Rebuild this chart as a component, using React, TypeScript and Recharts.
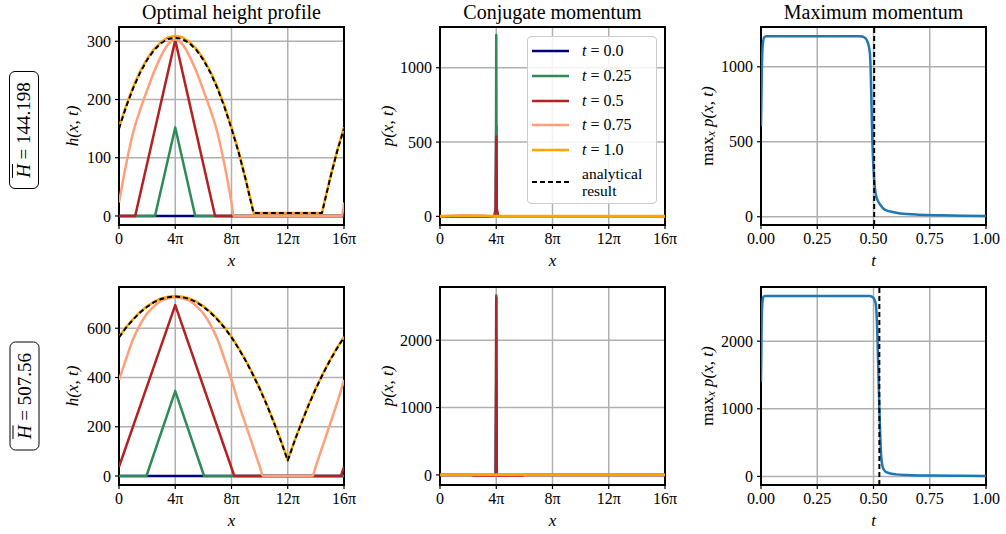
import React from 'react';
import { LineChart, Line, XAxis, YAxis, CartesianGrid, ReferenceArea, ReferenceLine, Legend } from 'recharts';

const SERIF = '"Liberation Serif", "DejaVu Serif", serif';

// axis ticks (x in units of pi for the spatial panels)
const xTicksPi = [0, 4, 8, 12, 16];
const tTicks = [0, 0.25, 0.5, 0.75, 1];
const hTicksTop = [0, 100, 200, 300];
const pTicksTop = [0, 500, 1000];
const maxTicksTop = [0, 500, 1000];
const hTicksBottom = [0, 200, 400, 600];
const pTicksBottom = [0, 1000, 2000];
const maxTicksBottom = [0, 1000, 2000];

const timeLabels = ['0.0', '0.25', '0.5', '0.75', '1.0'];
const hBarLabels = ['144.198', '507.56'];
const titles = ['Optimal height profile', 'Conjugate momentum', 'Maximum momentum'];
// analytical switch-off time for each run
const tStar = [0.503, 0.526];

// ---- h(x, t), H = 144.198 ----
const h0Top = [[0, 0], [16, 0]];
const h25Top = [[0, 0], [2.56, 0], [4, 152], [5.42, 0], [16, 0]];
const h50Top = [[0, 0], [1.15, 0], [4, 302], [6.83, 0], [16, 0]];
const h75Top = [
  [0, 23], [0.5, 88], [1, 143], [1.5, 182], [2, 216], [2.5, 248], [3, 275], [3.5, 295], [4, 303],
  [4.5, 295], [5, 275], [5.5, 248], [6, 216], [6.5, 182], [7, 143], [7.5, 88], [8, 23], [8.15, 0],
  [15.85, 0], [16, 23],
];
const h100Top = [
  [0, 152], [0.5, 189], [1, 221], [1.5, 248], [2, 270], [2.5, 287], [3, 299], [3.5, 307], [4, 309],
  [4.5, 307], [5, 299], [5.5, 287], [6, 270], [6.5, 248], [7, 221], [7.5, 189], [8, 152], [8.5, 111],
  [9, 64], [9.5, 13], [9.57, 5], [14.43, 5], [14.5, 13], [15, 64], [15.5, 111], [16, 152],
];
const hExactTop = [
  [0, 150], [0.5, 187], [1, 219], [1.5, 246], [2, 268], [2.5, 285], [3, 297], [3.5, 304], [4, 306],
  [4.5, 304], [5, 297], [5.5, 285], [6, 268], [6.5, 246], [7, 219], [7.5, 187], [8, 150], [8.5, 110],
  [9, 63], [9.5, 12], [9.57, 5], [14.43, 5], [14.5, 12], [15, 63], [15.5, 110], [16, 150],
];

// ---- p(x, t), H = 144.198 ----
const p0Top = [[0, 0], [3.97, 0], [4, 605], [4.03, 0], [16, 0]];
const p25Top = [[0, 0], [3.97, 0], [4, 1221], [4.03, 0], [16, 0]];
const p50Top = [[0, 0], [3.85, 0], [3.96, 50], [4, 538], [4.04, 50], [4.15, 0], [16, 0]];
const p75Top = [[0, 0], [0.8, 5], [1.5, 7], [3, 6], [3.8, 0], [16, 0]];
const p100Top = [[0, 3], [16, 3]];

// ---- max_x p(x, t), H = 144.198 ----
const maxTop = [
  [0, 605], [0.004, 1000], [0.008, 1150], [0.015, 1198], [0.025, 1203], [0.44, 1203], [0.46, 1195],
  [0.475, 1160], [0.484, 1090], [0.487, 1000], [0.495, 500], [0.5, 320], [0.505, 210], [0.51, 150],
  [0.52, 105], [0.53, 80], [0.55, 48], [0.6, 27], [0.65, 18], [0.7, 14], [0.8, 10], [0.9, 7], [1, 5],
];

// ---- h(x, t), H = 507.56 ----
const h0Bot = [[0, 0], [16, 0]];
const h25Bot = [[0, 0], [1.95, 0], [4, 345], [6.05, 0], [16, 0]];
const h50Bot = [[0, 37], [4, 694], [8.2, 0], [15.78, 0], [16, 37]];
const h75Bot = [
  [0, 390], [0.5, 475], [1, 555], [1.5, 615], [2, 660], [2.5, 690], [3, 712], [3.5, 722], [4, 726],
  [4.5, 722], [5, 712], [5.5, 690], [6, 660], [6.5, 615], [7, 555], [7.5, 475], [8, 390], [8.5, 295],
  [9, 210], [9.5, 125], [10, 40], [10.25, 0], [13.75, 0], [14, 40], [14.5, 125], [15, 210],
  [15.5, 295], [16, 390],
];
const h100Bot = [
  [0, 565], [0.5, 604], [1, 637], [1.5, 666], [2, 689], [2.5, 708], [3, 721], [3.5, 728], [4, 731],
  [4.5, 728], [5, 721], [5.5, 708], [6, 689], [6.5, 666], [7, 637], [7.5, 604], [8, 565], [8.5, 520],
  [9, 471], [9.5, 416], [10, 357], [10.5, 292], [11, 221], [11.5, 146], [12, 65], [12.5, 146],
  [13, 221], [13.5, 292], [14, 357], [14.5, 416], [15, 471], [15.5, 520], [16, 565],
];
const hExactBot = [
  [0, 563], [0.5, 602], [1, 635], [1.5, 664], [2, 687], [2.5, 706], [3, 719], [3.5, 726], [4, 729],
  [4.5, 726], [5, 719], [5.5, 706], [6, 687], [6.5, 664], [7, 635], [7.5, 602], [8, 563], [8.5, 518],
  [9, 469], [9.5, 414], [10, 355], [10.5, 290], [11, 219], [11.5, 144], [12, 63], [12.5, 144],
  [13, 219], [13.5, 290], [14, 355], [14.5, 414], [15, 469], [15.5, 518], [16, 563],
];

// ---- p(x, t), H = 507.56 ----
const p0Bot = [[0, 0], [3.96, 0], [4, 1397], [4.04, 0], [16, 0]];
const p25Bot = [[0, 0], [3.97, 0], [4, 2668], [4.03, 0], [16, 0]];
const p50Bot = [
  [0, 0], [2.3, 0], [2.35, -12], [3.9, -12], [3.97, 0], [4, 2635], [4.03, 0], [4.1, -12],
  [5.9, -12], [5.95, 0], [16, 0],
];
const p75Bot = [[0, 0], [16, 0]];
const p100Bot = [[0, 3], [16, 3]];

// ---- max_x p(x, t), H = 507.56 ----
const maxBot = [
  [0, 1400], [0.003, 2300], [0.007, 2600], [0.012, 2660], [0.02, 2668], [0.48, 2668], [0.495, 2655],
  [0.503, 2620], [0.51, 2550], [0.515, 2300], [0.518, 2000], [0.522, 1500], [0.526, 1000],
  [0.53, 600], [0.534, 300], [0.54, 150], [0.548, 90], [0.56, 60], [0.58, 40], [0.6, 30],
  [0.65, 20], [0.75, 12], [0.9, 8], [1, 6],
];

const timeColors = ['#000080', '#2e8b57', '#b22222', '#ffa07a', '#ffa500'];
const BLUE = '#1f77b4';

type Pt = { x: number; y: number };
const toPts = (rows: number[][]): Pt[] => rows.map(([x, y]) => ({ x, y }));

type Series = { key: string; color: string; data: number[][]; dashed?: boolean; curve?: 'linear' | 'monotone' };

const timeSeries = (sets: number[][][], curves: ('linear' | 'monotone')[]): Series[] =>
  sets.map((d, i) => ({ key: 't' + timeLabels[i], color: timeColors[i], data: d, curve: curves[i] }));

const PLOT_W = 225;
const PLOT_H = 198;
const AXIS_W = 70;
const PAD_TOP = 8;
const PAD_RIGHT = 24;
const AXIS_H = 52;

const piFormat = (v: number) => (v === 0 ? '0' : `${v}π`);
const tFormat = (v: number) => v.toFixed(2);

function XTitle(props: any) {
  const { viewBox, text } = props;
  if (!viewBox) return null;
  return (
    <text
      x={viewBox.x + viewBox.width / 2}
      y={viewBox.y + 41}
      textAnchor="middle"
      fontFamily={SERIF}
      fontSize={17}
      fontStyle="italic"
      fill="#000"
    >
      {text}
    </text>
  );
}

function YTitle(props: any) {
  const { viewBox, kind, dx } = props;
  if (!viewBox) return null;
  const cx = viewBox.x + dx;
  const cy = viewBox.y + viewBox.height / 2;
  return (
    <text
      x={cx}
      y={cy}
      transform={`rotate(-90 ${cx} ${cy})`}
      textAnchor="middle"
      dominantBaseline="central"
      fontFamily={SERIF}
      fontSize={17}
      fill="#000"
    >
      {kind === 'max' ? (
        <>
          <tspan>max</tspan>
          <tspan dy={4} fontSize={12} fontStyle="italic">x</tspan>
          <tspan dy={-4} fontStyle="italic"> p(x, t)</tspan>
        </>
      ) : (
        <tspan fontStyle="italic">{kind}(x, t)</tspan>
      )}
    </text>
  );
}

function LegendBox() {
  return (
    <div
      style={{
        width: 130,
        height: 168,
        boxSizing: 'border-box',
        border: '1px solid #cccccc',
        borderRadius: 4,
        background: 'rgba(255,255,255,0.85)',
        fontFamily: SERIF,
        fontSize: 16,
        color: '#000',
        paddingTop: 2,
      }}
    >
      {timeLabels.map((t, i) => (
        <div key={t} style={{ display: 'flex', alignItems: 'center', height: 24.67 }}>
          <svg width={54} height={6}>
            <line x1={4} x2={41} y1={3} y2={3} stroke={timeColors[i]} strokeWidth={2.5} />
          </svg>
          <span>
            <i>t</i> = {t}
          </span>
        </div>
      ))}
      <div style={{ display: 'flex', alignItems: 'center', height: 40 }}>
        <svg width={54} height={6}>
          <line x1={4} x2={41} y1={3} y2={3} stroke="#000" strokeWidth={2} strokeDasharray="5 3" />
        </svg>
        <span style={{ fontSize: 15.5, lineHeight: '17px' }}>
          analytical
          <br />
          result
        </span>
      </div>
    </div>
  );
}

interface PanelProps {
  plotLeft: number;
  plotTop: number;
  xDomain: [number, number];
  xTicks: number[];
  xFormat: (v: number) => string;
  xLabel: string;
  yDomain: [number, number];
  yTicks: number[];
  yLabel: 'h' | 'p' | 'max';
  yLabelDx: number;
  series: Series[];
  vline?: number;
  legend?: boolean;
}

function Panel(p: PanelProps) {
  const w = AXIS_W + PLOT_W + PAD_RIGHT;
  const h = PAD_TOP + PLOT_H + AXIS_H;
  const tickStyle = { fontSize: 16, fill: '#000', fontFamily: SERIF, style: { fontFamily: SERIF } };
  return (
    <div style={{ position: 'absolute', left: p.plotLeft - AXIS_W, top: p.plotTop - PAD_TOP, fontFamily: SERIF }}>
      <LineChart
        width={w}
        height={h}
        margin={{ top: PAD_TOP, right: PAD_RIGHT, bottom: 0, left: 0 }}
        style={{ fontFamily: SERIF }}
      >
        <CartesianGrid stroke="#b0b0b0" strokeWidth={1.5} />
        <XAxis
          dataKey="x"
          type="number"
          domain={p.xDomain}
          ticks={p.xTicks}
          tickFormatter={p.xFormat}
          interval={0}
          allowDataOverflow
          height={AXIS_H}
          tick={tickStyle}
          tickSize={4}
          tickMargin={4}
          tickLine={{ stroke: '#000', strokeWidth: 1.2 }}
          axisLine={false}
          label={<XTitle text={p.xLabel} />}
        />
        <YAxis
          type="number"
          domain={p.yDomain}
          ticks={p.yTicks}
          interval={0}
          allowDataOverflow
          width={AXIS_W}
          tick={tickStyle}
          tickSize={4}
          tickMargin={4}
          tickLine={{ stroke: '#000', strokeWidth: 1.2 }}
          axisLine={false}
          label={<YTitle kind={p.yLabel} dx={p.yLabelDx} />}
        />
        {p.series.map((s) => (
          <Line
            key={s.key}
            data={toPts(s.data)}
            dataKey="y"
            type={s.curve ?? 'linear'}
            stroke={s.color}
            strokeWidth={s.dashed ? 2 : 2.5}
            strokeDasharray={s.dashed ? '5 3' : undefined}
            strokeLinejoin="round"
            dot={false}
            activeDot={false}
            isAnimationActive={false}
          />
        ))}
        {p.vline !== undefined && (
          <ReferenceLine x={p.vline} stroke="#000" strokeWidth={2} strokeDasharray="5 3" />
        )}
        <ReferenceArea
          x1={p.xDomain[0]}
          x2={p.xDomain[1]}
          y1={p.yDomain[0]}
          y2={p.yDomain[1]}
          fill="none"
          fillOpacity={0}
          stroke="#000"
          strokeWidth={2}
          ifOverflow="visible"
        />
        {p.legend && (
          <Legend
            layout="vertical"
            align="center"
            verticalAlign="middle"
            wrapperStyle={{ left: 157, top: 17, width: 130 }}
            content={() => <LegendBox />}
          />
        )}
      </LineChart>
    </div>
  );
}

function RowTag({ cy, len, value }: { cy: number; len: number; value: string }) {
  return (
    <div
      style={{
        position: 'absolute',
        left: 24 - len / 2,
        top: cy - 15,
        width: len,
        height: 30,
        transform: 'rotate(-90deg)',
        border: '1px solid #000',
        borderRadius: 6,
        boxSizing: 'border-box',
        display: 'flex',
        alignItems: 'center',
        justifyContent: 'center',
        fontSize: 19,
        background: '#fff',
        whiteSpace: 'nowrap',
      }}
    >
      <span>
        <i style={{ textDecoration: 'overline' }}>H</i> = {value}
      </span>
    </div>
  );
}

const COL_LEFT = [119, 440, 761];
const ROW_TOP = [27, 286.5];

export default function App() {
  const spatialCurves: ('linear' | 'monotone')[] = ['linear', 'linear', 'linear', 'monotone', 'linear'];
  const topH: Series[] = [
    ...timeSeries([h0Top, h25Top, h50Top, h75Top, h100Top], spatialCurves),
    { key: 'exact', color: '#000', data: hExactTop, dashed: true },
  ];
  const botH: Series[] = [
    ...timeSeries([h0Bot, h25Bot, h50Bot, h75Bot, h100Bot], spatialCurves),
    { key: 'exact', color: '#000', data: hExactBot, dashed: true },
  ];
  const linear5: ('linear' | 'monotone')[] = ['linear', 'linear', 'linear', 'linear', 'linear'];
  const topP = timeSeries([p0Top, p25Top, p50Top, p75Top, p100Top], linear5);
  const botP = timeSeries([p0Bot, p25Bot, p50Bot, p75Bot, p100Bot], linear5);

  return (
    <div
      style={{
        position: 'absolute',
        left: 0,
        top: 0,
        width: 1006,
        height: 534,
        background: '#fff',
        fontFamily: SERIF,
        color: '#000',
        overflow: 'hidden',
      }}
    >
      {titles.map((t, i) => (
        <div
          key={t}
          style={{
            position: 'absolute',
            left: COL_LEFT[i],
            top: 2,
            width: PLOT_W,
            textAlign: 'center',
            fontSize: 20,
            lineHeight: '20px',
            whiteSpace: 'nowrap',
          }}
        >
          {t}
        </div>
      ))}

      <RowTag cy={130} len={118} value={hBarLabels[0]} />
      <RowTag cy={395.5} len={109} value={hBarLabels[1]} />

      <Panel
        plotLeft={COL_LEFT[0]}
        plotTop={ROW_TOP[0]}
        xDomain={[0, 16]}
        xTicks={xTicksPi}
        xFormat={piFormat}
        xLabel="x"
        yDomain={[-15.5, 324.5]}
        yTicks={hTicksTop}
        yLabel="h"
        yLabelDx={23}
        series={topH}
      />
      <Panel
        plotLeft={COL_LEFT[1]}
        plotTop={ROW_TOP[0]}
        xDomain={[0, 16]}
        xTicks={xTicksPi}
        xFormat={piFormat}
        xLabel="x"
        yDomain={[-58, 1274]}
        yTicks={pTicksTop}
        yLabel="p"
        yLabelDx={17}
        series={topP}
        legend
      />
      <Panel
        plotLeft={COL_LEFT[2]}
        plotTop={ROW_TOP[0]}
        xDomain={[0, 1]}
        xTicks={tTicks}
        xFormat={tFormat}
        xLabel="t"
        yDomain={[-55, 1265]}
        yTicks={maxTicksTop}
        yLabel="max"
        yLabelDx={16}
        series={[{ key: 'max', color: BLUE, data: maxTop, curve: 'monotone' }]}
        vline={tStar[0]}
      />

      <Panel
        plotLeft={COL_LEFT[0]}
        plotTop={ROW_TOP[1]}
        xDomain={[0, 16]}
        xTicks={xTicksPi}
        xFormat={piFormat}
        xLabel="x"
        yDomain={[-36.5, 767.5]}
        yTicks={hTicksBottom}
        yLabel="h"
        yLabelDx={23}
        series={botH}
      />
      <Panel
        plotLeft={COL_LEFT[1]}
        plotTop={ROW_TOP[1]}
        xDomain={[0, 16]}
        xTicks={xTicksPi}
        xFormat={piFormat}
        xLabel="x"
        yDomain={[-150, 2790]}
        yTicks={pTicksBottom}
        yLabel="p"
        yLabelDx={17}
        series={botP}
      />
      <Panel
        plotLeft={COL_LEFT[2]}
        plotTop={ROW_TOP[1]}
        xDomain={[0, 1]}
        xTicks={tTicks}
        xFormat={tFormat}
        xLabel="t"
        yDomain={[-127, 2801]}
        yTicks={maxTicksBottom}
        yLabel="max"
        yLabelDx={16}
        series={[{ key: 'max', color: BLUE, data: maxBot, curve: 'monotone' }]}
        vline={tStar[1]}
      />
    </div>
  );
}
